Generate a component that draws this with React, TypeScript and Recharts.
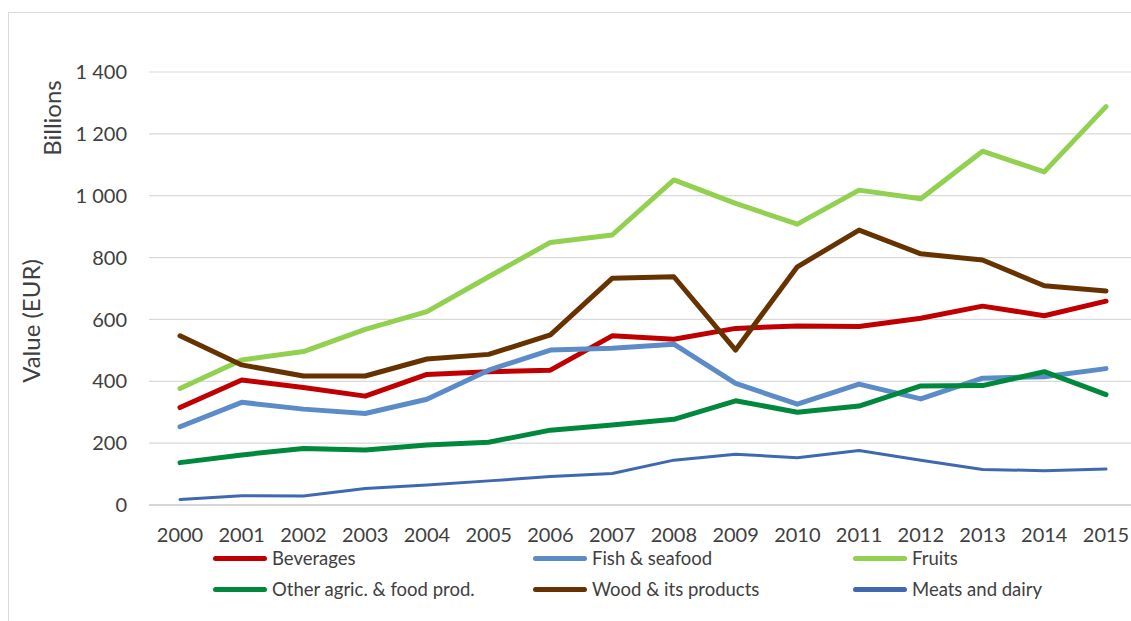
import React from "react";
import { LineChart, Line, XAxis, YAxis, CartesianGrid } from "recharts";

// Export value by product group, billions EUR
const years = [
  "2000", "2001", "2002", "2003", "2004", "2005", "2006", "2007",
  "2008", "2009", "2010", "2011", "2012", "2013", "2014", "2015",
];
const beverages = [315, 404, 380, 352, 422, 431, 436, 547, 536, 571, 579, 577, 604, 643, 612, 659];
const fishSeafood = [253, 332, 310, 296, 342, 436, 501, 507, 520, 393, 326, 391, 343, 410, 415, 441];
const fruits = [377, 469, 496, 568, 625, 738, 849, 873, 1051, 975, 908, 1018, 990, 1144, 1077, 1288];
const otherAgric = [137, 162, 183, 178, 194, 203, 242, 259, 277, 337, 300, 320, 385, 386, 431, 357];
const wood = [547, 453, 417, 417, 472, 487, 550, 733, 738, 501, 770, 889, 812, 792, 709, 692];
const meatsDairy = [18, 30, 29, 53, 65, 78, 92, 102, 145, 164, 153, 176, 145, 115, 111, 116];
const yTicks = [0, 200, 400, 600, 800, 1000, 1200, 1400];

const series = [
  { key: "beverages", name: "Beverages", color: "#C00000", width: 5, values: beverages },
  { key: "fish", name: "Fish & seafood", color: "#5B8CC8", width: 5, values: fishSeafood },
  { key: "fruits", name: "Fruits", color: "#92D050", width: 5, values: fruits },
  { key: "other", name: "Other agric. & food prod.", color: "#00893D", width: 5, values: otherAgric },
  { key: "wood", name: "Wood & its products", color: "#663300", width: 5, values: wood },
  { key: "meats", name: "Meats and dairy", color: "#4068B0", width: 3, values: meatsDairy },
];

const chartData = years.map((year, i) => {
  const row: Record<string, string | number> = { year };
  series.forEach((s) => {
    row[s.key] = s.values[i];
  });
  return row;
});

const FONT = "Lato, 'Open Sans', sans-serif";
const TEXT = "#404040";

// "1400" -> "1 400"
const fmt = (v: number) =>
  v >= 1000 ? `${Math.floor(v / 1000)} ${String(v % 1000).padStart(3, "0")}` : String(v);

const AxisTitles = () => (
  <g>
    <text
      x={51}
      y={118}
      transform="rotate(-90 51 118)"
      textAnchor="middle"
      dominantBaseline="central"
      fill={TEXT}
      fontSize={24}
      fontFamily={FONT}
    >
      Billions
    </text>
    <text
      x={30}
      y={321}
      transform="rotate(-90 30 321)"
      textAnchor="middle"
      dominantBaseline="central"
      fill={TEXT}
      fontSize={24}
      fontFamily={FONT}
    >
      Value (EUR)
    </text>
  </g>
);

const legendCols = [213, 533, 853];
const legendRows = [558, 589];

export default function App() {
  return (
    <div
      style={{
        position: "absolute",
        left: 0,
        top: 0,
        width: 1131,
        height: 621,
        overflow: "hidden",
        background: "#fff",
        fontFamily: FONT,
      }}
    >
      <div
        style={{
          position: "absolute",
          left: 8,
          top: 12,
          width: 1200,
          height: 700,
          border: "1px solid #d9d9d9",
        }}
      />
      <div style={{ position: "absolute", left: 0, top: 0 }}>
        <LineChart
          width={1131}
          height={621}
          data={chartData}
          margin={{ top: 72, right: 0, bottom: 86, left: 89 }}
        >
          <CartesianGrid vertical={false} stroke="#d9d9d9" strokeWidth={1.2} />
          <XAxis
            dataKey="year"
            height={30}
            padding={{ left: 31, right: 25 }}
            tickLine={false}
            axisLine={{ stroke: "#bfbfbf", strokeWidth: 1.2 }}
            tickSize={0}
            tickMargin={23}
            interval={0}
            tick={{ fill: TEXT, fontSize: 20, fontFamily: FONT }}
          />
          <YAxis
            width={60}
            domain={[0, 1400]}
            ticks={yTicks}
            tickFormatter={fmt}
            tickLine={false}
            axisLine={false}
            tickSize={0}
            tickMargin={22}
            tick={{ fill: TEXT, fontSize: 20, fontFamily: FONT }}
            label={{ content: () => <AxisTitles /> }}
          />
          {series.map((s) => (
            <Line
              key={s.key}
              type="linear"
              dataKey={s.key}
              name={s.name}
              stroke={s.color}
              strokeWidth={s.width}
              strokeLinecap="round"
              strokeLinejoin="round"
              dot={false}
              isAnimationActive={false}
            />
          ))}
        </LineChart>
      </div>
      {series.map((s, i) => {
        const left = legendCols[i % 3];
        const top = legendRows[Math.floor(i / 3)];
        return (
          <div
            key={s.key}
            style={{
              position: "absolute",
              left,
              top: top - 12,
              height: 24,
              display: "flex",
              alignItems: "center",
              whiteSpace: "nowrap",
            }}
          >
            <span
              style={{
                display: "inline-block",
                width: 54,
                height: 5,
                borderRadius: 2.5,
                background: s.color,
                marginRight: 5,
              }}
            />
            <span style={{ color: TEXT, fontSize: 18.5 }}>{s.name}</span>
          </div>
        );
      })}
    </div>
  );
}
